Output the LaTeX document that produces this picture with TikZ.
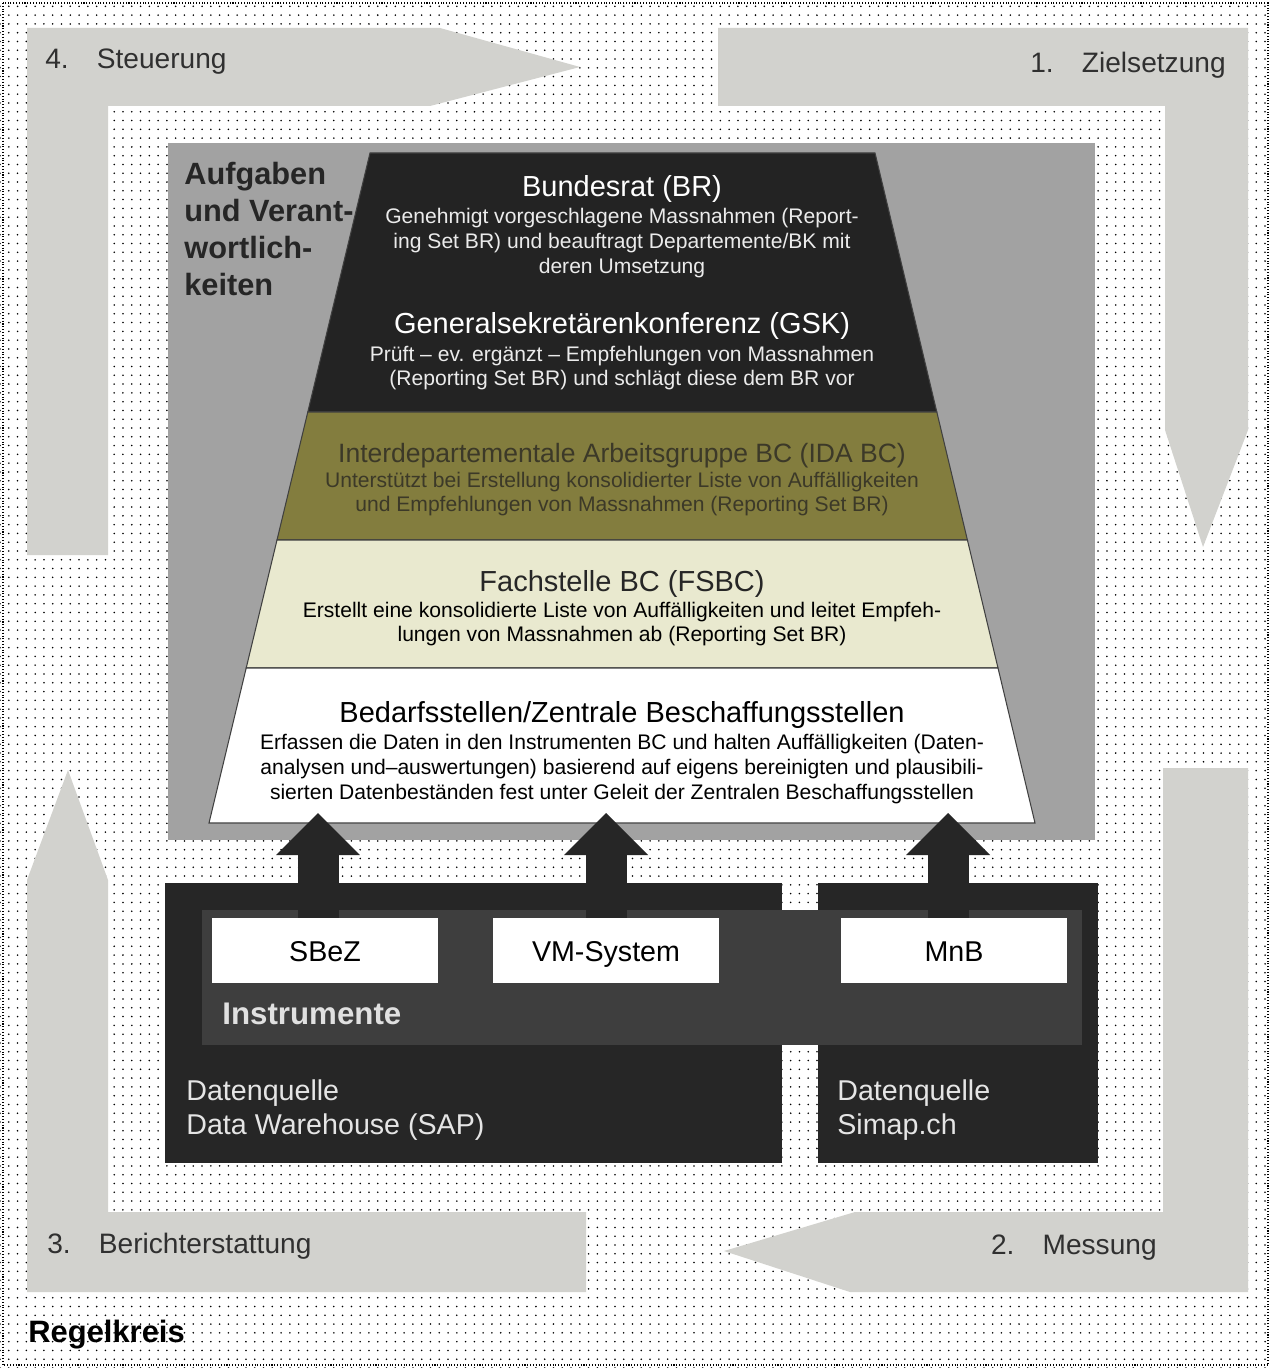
\documentclass[tikz,border=0pt]{standalone}
\usepackage{fontspec}
\setmainfont{Liberation Sans}
\usepackage{xcolor}
\usepackage{tikz}
\usetikzlibrary{calc,backgrounds}
\usetikzlibrary{arrows.meta}
\usetikzlibrary{patterns.meta}
\pgfdeclarelayer{edgelayer}
\pgfdeclarelayer{nodelayer}
\pgfsetlayers{background,edgelayer,nodelayer,main}
\definecolor{bandgray}{RGB}{210,210,206}
\definecolor{shadegray}{RGB}{162,162,162}
\definecolor{topblack}{RGB}{35,35,35}
\definecolor{idaolive}{RGB}{131,125,62}
\definecolor{idatext}{RGB}{60,57,40}
\definecolor{fsbcpale}{RGB}{233,233,207}
\definecolor{instdark}{RGB}{38,38,38}
\definecolor{instpanel}{RGB}{62,62,62}
\definecolor{phasetext}{RGB}{48,48,48}
\tikzstyle{none}=[inner sep=0mm]
\tikzstyle{band}=[fill=bandgray]
\tikzstyle{layer}=[draw=black!75,line width=0.6pt]
\tikzstyle{phase}=[inner sep=0mm,text=phasetext,font=\fontsize{16}{19}\selectfont]
\tikzstyle{head}=[inner sep=0mm,font=\fontsize{16.5}{19}\selectfont]
\tikzstyle{body}=[inner sep=0mm,align=center,font=\fontsize{12}{14.1}\selectfont]
\tikzstyle{instbox}=[fill=white,minimum width=4.54cm,minimum height=1.3cm,inner sep=0mm,text height=14pt,text depth=2pt,font=\fontsize{16.3}{19}\selectfont]
\tikzstyle{source}=[inner sep=0mm,anchor=west,align=left,text=black!10,font=\fontsize{16.3}{19.3}\selectfont]
\tikzstyle{uparrow}=[draw=instdark,line width=0.82cm,-{Triangle[width=1.68cm,length=0.84cm,line width=0pt]}]

\begin{document}
\begin{tikzpicture}[x=0.02cm,y=-0.02cm]
	\begin{pgfonlayer}{background}
		% paper with halftone dots
		\fill [white] (0,0) rectangle (1271,1368);
		\fill [pattern={Dots[radius=0.5pt,distance=5pt]},pattern color=black] (0,0) rectangle (1271,1368);
		\draw [densely dotted,line width=0.6pt] (3,3) rectangle (1268,1365);
		% control loop
		\fill [style=band] (27,28) -- (440,28) -- (580,67) -- (430,106) -- (108,106) -- (108,555) -- (27,555) -- cycle;
		\fill [style=band] (718,28) -- (1248,28) -- (1248,430) -- (1203,547) -- (1165,430) -- (1165,106) -- (718,106) -- cycle;
		\fill [style=band] (1163,768) -- (1248,768) -- (1248,1292) -- (850,1292) -- (724,1251) -- (855,1212) -- (1163,1212) -- cycle;
		\fill [style=band] (68,770) -- (108,880) -- (108,1212) -- (586,1212) -- (586,1292) -- (27,1292) -- (27,880) -- cycle;
		% pyramid
		\fill [shadegray] (168,143) rectangle (1095,840);
		\filldraw [style=layer,fill=topblack] (370,153) -- (875,153) -- (936.8,412) -- (307.8,412) -- cycle;
		\filldraw [style=layer,fill=idaolive] (307.8,412) -- (936.8,412) -- (967.4,540) -- (277,540) -- cycle;
		\filldraw [style=layer,fill=fsbcpale] (277,540) -- (967.4,540) -- (998,668) -- (246.2,668) -- cycle;
		\filldraw [style=layer,fill=white] (246.2,668) -- (998,668) -- (1035,823) -- (209,823) -- cycle;
		% instruments
		\fill [instdark] (165,883) rectangle (782,1163);
		\fill [instdark] (818,883) rectangle (1098,1163);
		\fill [instdark] (780,910) rectangle (820,1045);
		\fill [instpanel] (202,910) rectangle (1082,1045);
	\end{pgfonlayer}
	\begin{pgfonlayer}{nodelayer}
		\node [style=phase,anchor=west] (steuer) at (45,62) {4.\quad Steuerung};
		\node [style=phase,anchor=east] (ziel) at (1226,65) {1.\quad Zielsetzung};
		\node [style=phase,anchor=east] (messung) at (1157,1248) {2.\quad Messung};
		\node [style=phase,anchor=west] (bericht) at (47,1246) {3.\quad Berichterstattung};
		\node [style=none,anchor=west,font=\bfseries\fontsize{17.6}{21}\selectfont] (regel) at (28,1335) {Regelkreis};
		\node [style=none,anchor=north west,align=left,text=black!85,font=\bfseries\fontsize{17.5}{21}\selectfont] (aufgaben) at (184,162) {Aufgaben\\und Verant-\\wortlich-\\keiten};
		\node [style=head,text=white] (br) at (622,189) {Bundesrat (BR)};
		\node [style=body,text=black!8] (brtext) at (622,243) {Genehmigt vorgeschlagene Massnahmen (Report-\\ing Set BR) und beauftragt Departemente/BK mit\\deren Umsetzung};
		\node [style=head,text=white] (gsk) at (622,326) {Generalsekretärenkonferenz (GSK)};
		\node [style=body,text=black!8] (gsktext) at (622,368) {Prüft – ev. ergänzt – Empfehlungen von Massnahmen\\(Reporting Set BR) und schlägt diese dem BR vor};
		\node [style=head,text=idatext,font=\fontsize{15.1}{18}\selectfont] (ida) at (622,456) {Interdepartementale Arbeitsgruppe BC (IDA BC)};
		\node [style=body,text=idatext] (idatext) at (622,494) {Unterstützt bei Erstellung konsolidierter Liste von Auffälligkeiten\\und Empfehlungen von Massnahmen (Reporting Set BR)};
		\node [style=head,text=black!85] (fsbc) at (622,584) {Fachstelle BC (FSBC)};
		\node [style=body] (fsbctext) at (622,624) {Erstellt eine konsolidierte Liste von Auffälligkeiten und leitet Empfeh-\\lungen von Massnahmen ab (Reporting Set BR)};
		\node [style=head] (bed) at (622,715) {Bedarfsstellen/Zentrale Beschaffungsstellen};
		\node [style=body] (bedtext) at (622,769) {Erfassen die Daten in den Instrumenten BC und halten Auffälligkeiten (Daten-\\analysen und–auswertungen) basierend auf eigens bereinigten und plausibili-\\sierten Datenbeständen fest unter Geleit der Zentralen Beschaffungsstellen};
		\coordinate (trapbase) at (622,813);
		\node [style=instbox] (sbez) at (325,950.5) {SBeZ};
		\node [style=instbox] (vmsys) at (606,950.5) {VM-System};
		\node [style=instbox] (mnb) at (954,950.5) {MnB};
		\node [style=none,anchor=west,text=black!12,font=\bfseries\fontsize{17.8}{21}\selectfont] (instr) at (222,1014) {Instrumente};
		\node [style=source] (dwh) at (186,1110) {Datenquelle\\Data Warehouse (SAP)};
		\node [style=source] (simap) at (837,1110) {Datenquelle\\Simap.ch};
	\end{pgfonlayer}
	\begin{pgfonlayer}{edgelayer}
		\draw [style=uparrow] ([xshift=-0.14cm]sbez.north) to ([xshift=-0.14cm]sbez.north |- trapbase);
		\draw [style=uparrow] (vmsys.north) to (vmsys.north |- trapbase);
		\draw [style=uparrow] ([xshift=-0.12cm]mnb.north) to ([xshift=-0.12cm]mnb.north |- trapbase);
	\end{pgfonlayer}
\end{tikzpicture}
\end{document}
